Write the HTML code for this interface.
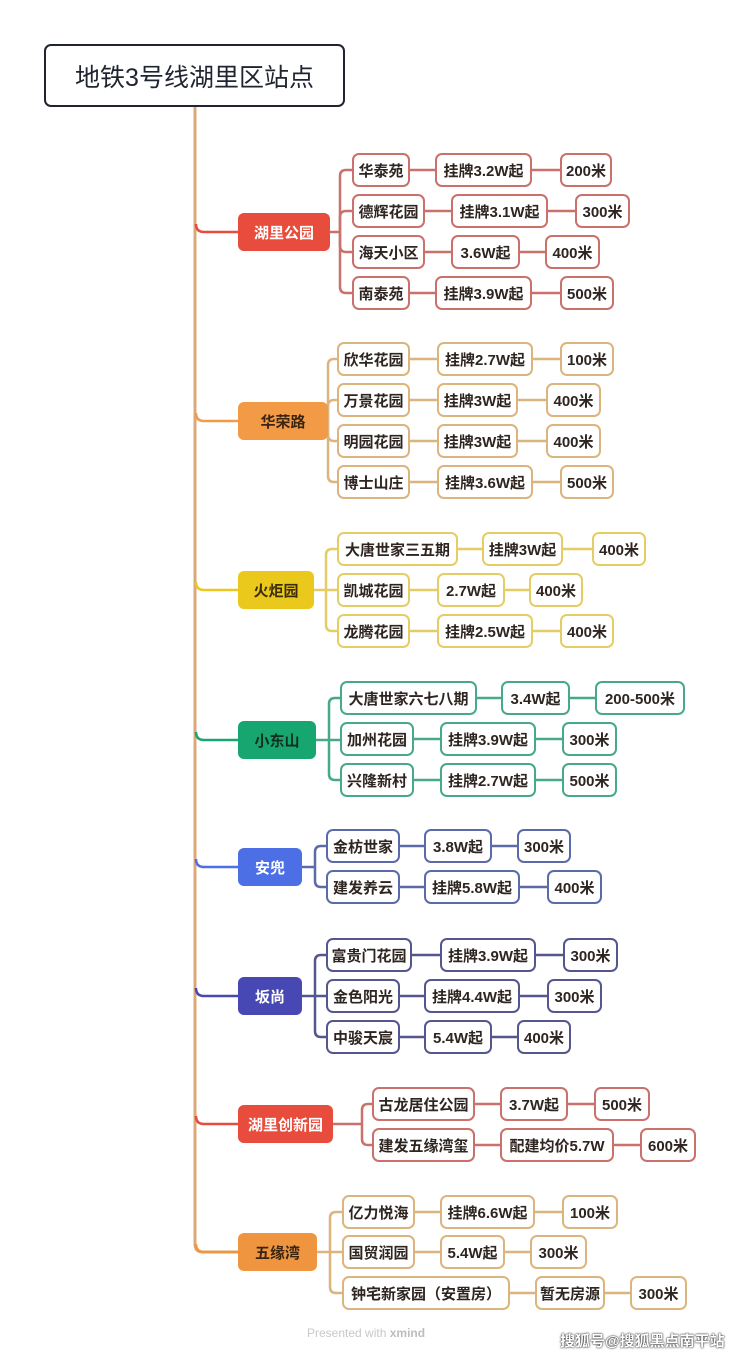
<!DOCTYPE html>
<html><head><meta charset="utf-8"><style>
body{margin:0;background:#fff;}
#c{position:relative;width:740px;height:1355px;overflow:hidden;font-family:"Liberation Sans","Noto Sans CJK SC",sans-serif;}
.b{position:absolute;box-sizing:border-box;height:34px;border:2px solid;border-radius:7px;background:#fff;display:flex;align-items:center;justify-content:center;font-size:15px;font-weight:bold;color:#2e2420;white-space:nowrap;}
.n{position:absolute;box-sizing:border-box;height:38px;border-radius:6px;display:flex;align-items:center;justify-content:center;font-size:15px;font-weight:bold;white-space:nowrap;}
svg{position:absolute;left:0;top:0;}
</style></head><body><div id="c">
<svg width="740" height="1355" fill="none" stroke-width="2.5">
<g stroke="#dca878" stroke-width="3">
<path d="M195 107 V1244 Q195 1252 203 1252 H238"/>
</g>
<g stroke-width="2.5">
<path stroke="#e74c3c" d="M196 224 Q196 232 204 232 H238"/>
<path stroke="#f29a45" d="M196 413 Q196 421 204 421 H238"/>
<path stroke="#ebc81c" d="M196 582 Q196 590 204 590 H238"/>
<path stroke="#17a670" d="M196 732 Q196 740 204 740 H238"/>
<path stroke="#4d6fe6" d="M196 859 Q196 867 204 867 H238"/>
<path stroke="#4848b4" d="M196 988 Q196 996 204 996 H238"/>
<path stroke="#e74c3c" d="M196 1116 Q196 1124 204 1124 H238"/>
<path stroke="#f0953f" d="M196 1244 Q196 1252 204 1252 H238"/>
</g>
<!-- G1 -->
<g stroke="#c9716a">
<path d="M330 232 H340"/>
<path d="M340 232 V176 Q340 170 346 170 H352 M410 170 H435 M532 170 H560"/>
<path d="M340 232 V217 Q340 211 346 211 H352 M425 211 H451 M548 211 H575"/>
<path d="M340 232 V246 Q340 252 346 252 H352 M425 252 H451 M520 252 H545"/>
<path d="M340 232 V287 Q340 293 346 293 H352 M410 293 H435 M532 293 H560"/>
</g>
<!-- G2 -->
<g stroke="#dcb47e">
<path d="M328 421 V365 Q328 359 334 359 H337 M410 359 H437 M533 359 H560"/>
<path d="M328 421 V406 Q328 400 334 400 H337 M410 400 H437 M518 400 H546"/>
<path d="M328 421 V435 Q328 441 334 441 H337 M410 441 H437 M518 441 H546"/>
<path d="M328 421 V476 Q328 482 334 482 H337 M410 482 H437 M533 482 H560"/>
</g>
<!-- G3 -->
<g stroke="#e5cd66">
<path d="M314 590 H326"/>
<path d="M326 590 V555 Q326 549 332 549 H337 M458 549 H482 M563 549 H592"/>
<path d="M326 590 H337 M410 590 H437 M505 590 H529"/>
<path d="M326 590 V625 Q326 631 332 631 H337 M410 631 H437 M533 631 H560"/>
</g>
<!-- G4 -->
<g stroke="#47a88a">
<path d="M316 740 H329"/>
<path d="M329 740 V704 Q329 698 335 698 H340 M477 698 H501 M570 698 H595"/>
<path d="M329 740 H340 M414 739 H440 M536 739 H562"/>
<path d="M329 740 V774 Q329 780 335 780 H340 M414 780 H440 M536 780 H562"/>
</g>
<!-- G5 -->
<g stroke="#5b6aa8">
<path d="M302 867 H315"/>
<path d="M315 867 V852 Q315 846 321 846 H326 M400 846 H424 M492 846 H517"/>
<path d="M315 867 V881 Q315 887 321 887 H326 M400 887 H424 M520 887 H547"/>
</g>
<!-- G6 -->
<g stroke="#55568e">
<path d="M302 996 H315"/>
<path d="M315 996 V961 Q315 955 321 955 H326 M412 955 H440 M536 955 H563"/>
<path d="M315 996 H326 M400 996 H424 M520 996 H547"/>
<path d="M315 996 V1031 Q315 1037 321 1037 H326 M400 1037 H424 M492 1037 H517"/>
</g>
<!-- G7 -->
<g stroke="#c9716a">
<path d="M333 1124 H362"/>
<path d="M362 1124 V1110 Q362 1104 368 1104 H372 M475 1104 H500 M568 1104 H594"/>
<path d="M362 1124 V1139 Q362 1145 368 1145 H372 M475 1145 H500 M614 1145 H640"/>
</g>
<!-- G8 -->
<g stroke="#dcb47e">
<path d="M317 1252 H330"/>
<path d="M330 1252 V1218 Q330 1212 336 1212 H342 M415 1212 H440 M535 1212 H562"/>
<path d="M330 1252 H342 M415 1252 H440 M505 1252 H530"/>
<path d="M330 1252 V1287 Q330 1293 336 1293 H342 M510 1293 H535 M605 1293 H630"/>
</g>
</svg>

<div style="position:absolute;left:44px;top:44px;width:301px;height:63px;box-sizing:border-box;border:2.5px solid #1f2430;border-radius:7px;display:flex;align-items:center;justify-content:center;font-size:25px;color:#1f2430;background:#fff;">地铁3号线湖里区站点</div>

<!-- G1 -->
<div class="n" style="left:238px;top:213px;width:92px;background:#e74c3c;color:#fff;">湖里公园</div>
<div class="b" style="border-color:#c9716a;left:352px;top:153px;width:58px;">华泰苑</div>
<div class="b" style="border-color:#c9716a;left:435px;top:153px;width:97px;">挂牌3.2W起</div>
<div class="b" style="border-color:#c9716a;left:560px;top:153px;width:52px;">200米</div>
<div class="b" style="border-color:#c9716a;left:352px;top:194px;width:73px;">德辉花园</div>
<div class="b" style="border-color:#c9716a;left:451px;top:194px;width:97px;">挂牌3.1W起</div>
<div class="b" style="border-color:#c9716a;left:575px;top:194px;width:55px;">300米</div>
<div class="b" style="border-color:#c9716a;left:352px;top:235px;width:73px;">海天小区</div>
<div class="b" style="border-color:#c9716a;left:451px;top:235px;width:69px;">3.6W起</div>
<div class="b" style="border-color:#c9716a;left:545px;top:235px;width:55px;">400米</div>
<div class="b" style="border-color:#c9716a;left:352px;top:276px;width:58px;">南泰苑</div>
<div class="b" style="border-color:#c9716a;left:435px;top:276px;width:97px;">挂牌3.9W起</div>
<div class="b" style="border-color:#c9716a;left:560px;top:276px;width:54px;">500米</div>

<!-- G2 -->
<div class="n" style="left:238px;top:402px;width:90px;background:#f29a45;color:#3a2412;">华荣路</div>
<div class="b" style="border-color:#dcb47e;left:337px;top:342px;width:73px;">欣华花园</div>
<div class="b" style="border-color:#dcb47e;left:437px;top:342px;width:96px;">挂牌2.7W起</div>
<div class="b" style="border-color:#dcb47e;left:560px;top:342px;width:54px;">100米</div>
<div class="b" style="border-color:#dcb47e;left:337px;top:383px;width:73px;">万景花园</div>
<div class="b" style="border-color:#dcb47e;left:437px;top:383px;width:81px;">挂牌3W起</div>
<div class="b" style="border-color:#dcb47e;left:546px;top:383px;width:55px;">400米</div>
<div class="b" style="border-color:#dcb47e;left:337px;top:424px;width:73px;">明园花园</div>
<div class="b" style="border-color:#dcb47e;left:437px;top:424px;width:81px;">挂牌3W起</div>
<div class="b" style="border-color:#dcb47e;left:546px;top:424px;width:55px;">400米</div>
<div class="b" style="border-color:#dcb47e;left:337px;top:465px;width:73px;">博士山庄</div>
<div class="b" style="border-color:#dcb47e;left:437px;top:465px;width:96px;">挂牌3.6W起</div>
<div class="b" style="border-color:#dcb47e;left:560px;top:465px;width:54px;">500米</div>

<!-- G3 -->
<div class="n" style="left:238px;top:571px;width:76px;background:#ebc81c;color:#3a2e08;">火炬园</div>
<div class="b" style="border-color:#e5cd66;left:337px;top:532px;width:121px;">大唐世家三五期</div>
<div class="b" style="border-color:#e5cd66;left:482px;top:532px;width:81px;">挂牌3W起</div>
<div class="b" style="border-color:#e5cd66;left:592px;top:532px;width:54px;">400米</div>
<div class="b" style="border-color:#e5cd66;left:337px;top:573px;width:73px;">凯城花园</div>
<div class="b" style="border-color:#e5cd66;left:437px;top:573px;width:68px;">2.7W起</div>
<div class="b" style="border-color:#e5cd66;left:529px;top:573px;width:54px;">400米</div>
<div class="b" style="border-color:#e5cd66;left:337px;top:614px;width:73px;">龙腾花园</div>
<div class="b" style="border-color:#e5cd66;left:437px;top:614px;width:96px;">挂牌2.5W起</div>
<div class="b" style="border-color:#e5cd66;left:560px;top:614px;width:54px;">400米</div>

<!-- G4 -->
<div class="n" style="left:238px;top:721px;width:78px;background:#17a670;color:#10301f;">小东山</div>
<div class="b" style="border-color:#47a88a;left:340px;top:681px;width:137px;">大唐世家六七八期</div>
<div class="b" style="border-color:#47a88a;left:501px;top:681px;width:69px;">3.4W起</div>
<div class="b" style="border-color:#47a88a;left:595px;top:681px;width:90px;">200-500米</div>
<div class="b" style="border-color:#47a88a;left:340px;top:722px;width:74px;">加州花园</div>
<div class="b" style="border-color:#47a88a;left:440px;top:722px;width:96px;">挂牌3.9W起</div>
<div class="b" style="border-color:#47a88a;left:562px;top:722px;width:55px;">300米</div>
<div class="b" style="border-color:#47a88a;left:340px;top:763px;width:74px;">兴隆新村</div>
<div class="b" style="border-color:#47a88a;left:440px;top:763px;width:96px;">挂牌2.7W起</div>
<div class="b" style="border-color:#47a88a;left:562px;top:763px;width:55px;">500米</div>

<!-- G5 -->
<div class="n" style="left:238px;top:848px;width:64px;background:#4d6fe6;color:#fff;">安兜</div>
<div class="b" style="border-color:#5b6aa8;left:326px;top:829px;width:74px;">金枋世家</div>
<div class="b" style="border-color:#5b6aa8;left:424px;top:829px;width:68px;">3.8W起</div>
<div class="b" style="border-color:#5b6aa8;left:517px;top:829px;width:54px;">300米</div>
<div class="b" style="border-color:#5b6aa8;left:326px;top:870px;width:74px;">建发养云</div>
<div class="b" style="border-color:#5b6aa8;left:424px;top:870px;width:96px;">挂牌5.8W起</div>
<div class="b" style="border-color:#5b6aa8;left:547px;top:870px;width:55px;">400米</div>

<!-- G6 -->
<div class="n" style="left:238px;top:977px;width:64px;background:#4848b4;color:#fff;">坂尚</div>
<div class="b" style="border-color:#55568e;left:326px;top:938px;width:86px;">富贵门花园</div>
<div class="b" style="border-color:#55568e;left:440px;top:938px;width:96px;">挂牌3.9W起</div>
<div class="b" style="border-color:#55568e;left:563px;top:938px;width:55px;">300米</div>
<div class="b" style="border-color:#55568e;left:326px;top:979px;width:74px;">金色阳光</div>
<div class="b" style="border-color:#55568e;left:424px;top:979px;width:96px;">挂牌4.4W起</div>
<div class="b" style="border-color:#55568e;left:547px;top:979px;width:55px;">300米</div>
<div class="b" style="border-color:#55568e;left:326px;top:1020px;width:74px;">中骏天宸</div>
<div class="b" style="border-color:#55568e;left:424px;top:1020px;width:68px;">5.4W起</div>
<div class="b" style="border-color:#55568e;left:517px;top:1020px;width:54px;">400米</div>

<!-- G7 -->
<div class="n" style="left:238px;top:1105px;width:95px;background:#e74c3c;color:#fff;">湖里创新园</div>
<div class="b" style="border-color:#c9716a;left:372px;top:1087px;width:103px;">古龙居住公园</div>
<div class="b" style="border-color:#c9716a;left:500px;top:1087px;width:68px;">3.7W起</div>
<div class="b" style="border-color:#c9716a;left:594px;top:1087px;width:56px;">500米</div>
<div class="b" style="border-color:#c9716a;left:372px;top:1128px;width:103px;">建发五缘湾玺</div>
<div class="b" style="border-color:#c9716a;left:500px;top:1128px;width:114px;">配建均价5.7W</div>
<div class="b" style="border-color:#c9716a;left:640px;top:1128px;width:56px;">600米</div>

<!-- G8 -->
<div class="n" style="left:238px;top:1233px;width:79px;background:#f0953f;color:#3a2412;">五缘湾</div>
<div class="b" style="border-color:#dcb47e;left:342px;top:1195px;width:73px;">亿力悦海</div>
<div class="b" style="border-color:#dcb47e;left:440px;top:1195px;width:95px;">挂牌6.6W起</div>
<div class="b" style="border-color:#dcb47e;left:562px;top:1195px;width:56px;">100米</div>
<div class="b" style="border-color:#dcb47e;left:342px;top:1235px;width:73px;">国贸润园</div>
<div class="b" style="border-color:#dcb47e;left:440px;top:1235px;width:65px;">5.4W起</div>
<div class="b" style="border-color:#dcb47e;left:530px;top:1235px;width:57px;">300米</div>
<div class="b" style="border-color:#dcb47e;left:342px;top:1276px;width:168px;">钟宅新家园（安置房）</div>
<div class="b" style="border-color:#dcb47e;left:535px;top:1276px;width:70px;">暂无房源</div>
<div class="b" style="border-color:#dcb47e;left:630px;top:1276px;width:57px;">300米</div>

<div style="position:absolute;left:307px;top:1326px;font-size:12px;color:#c8c8c8;">Presented with <b style="color:#bdbdbd">xmind</b></div>
<div style="position:absolute;left:560px;top:1330px;font-size:15px;font-weight:bold;color:#fff;text-shadow:0 0 2px #333,0 0 1px #000;">搜狐号@搜狐黑点南平站</div>
</div></body></html>
